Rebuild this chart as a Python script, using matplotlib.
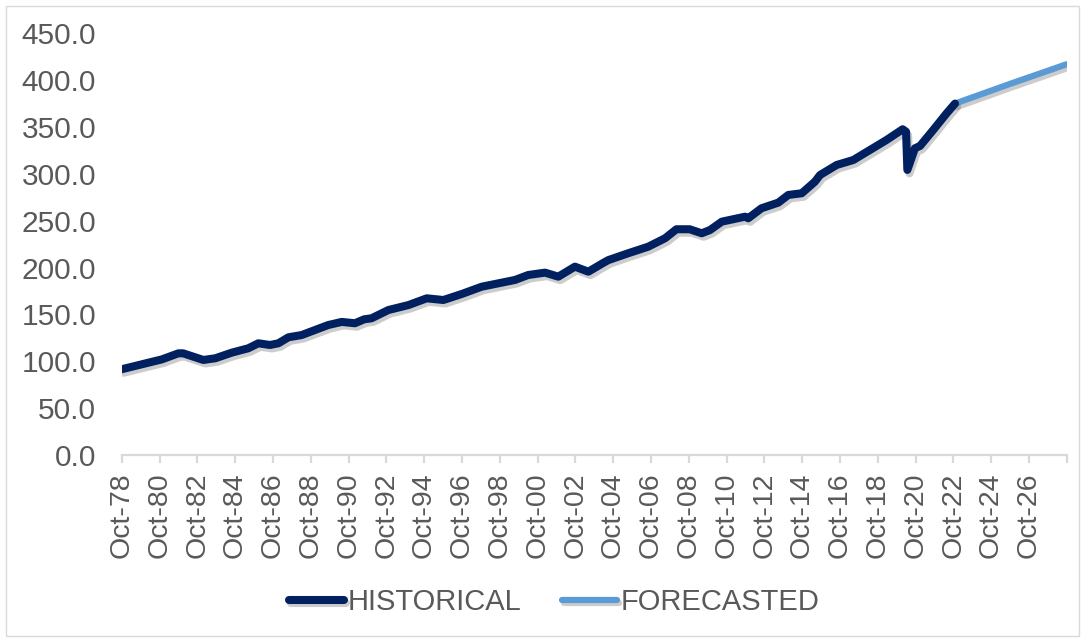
import matplotlib

matplotlib.use("Agg")

import matplotlib.pyplot as plt
import matplotlib.patheffects as pe
from matplotlib.patches import Rectangle

# values (x in decimal years, y in index units)
hist_years = [
    1978.75, 1980.16, 1980.87, 1981.75, 1982.0, 1983.07, 1983.7, 1984.57,
    1985.45, 1985.98, 1986.6, 1987.04, 1987.57, 1988.27, 1988.98, 1989.68,
    1990.39, 1991.09, 1991.58, 1991.97, 1992.86, 1993.92, 1994.89, 1995.77,
    1996.74, 1997.8, 1998.68, 1999.56, 2000.26, 2001.15, 2001.85, 2002.73,
    2003.44, 2004.23, 2004.5, 2005.55, 2006.61, 2007.5, 2008.1, 2008.8,
    2009.44, 2009.88, 2010.5, 2011.73, 2011.9, 2012.6, 2013.49, 2014.02,
    2014.73, 2015.43, 2015.7, 2016.58, 2017.46, 2018.34, 2019.22, 2020.07,
    2020.25, 2020.32, 2020.72, 2020.99, 2021.69, 2022.4, 2022.84,
]
hist_values = [
    91.5, 98.5, 102.0, 108.5, 108.5, 101.4, 103.2, 109.2,
    113.9, 119.2, 117.4, 119.2, 125.6, 128.0, 133.4, 138.7,
    142.0, 140.6, 144.8, 145.9, 154.7, 160.0, 167.2, 165.4,
    171.8, 179.6, 183.2, 186.8, 192.1, 194.6, 190.3, 201.0,
    195.6, 205.0, 208.0, 215.3, 222.3, 231.3, 240.9, 240.9,
    236.6, 240.1, 249.0, 254.3, 252.6, 263.3, 269.3, 277.5,
    279.3, 291.7, 298.8, 309.5, 314.8, 325.5, 336.2, 347.6,
    345.0, 304.2, 327.3, 329.8, 346.9, 364.7, 375.0,
]
fc_years = [2022.84, 2025.75, 2028.75]
fc_values = [375.0, 396.0, 417.0]

tick_years = [1978.75 + 2 * k for k in range(26)]
tick_labels = [f"Oct-{int(y) % 100:02d}" for y in tick_years[:-1]] + [""]

W, H, DPI = 1084, 641, 100
TEXT = "#595959"
GRID = "#D9D9D9"

plt.rcParams["font.family"] = ["Liberation Sans", "DejaVu Sans"]

fig = plt.figure(figsize=(W / DPI, H / DPI), dpi=DPI)
ax = fig.add_axes([121.7 / W, (H - 455) / H, 945 / W, 421.7 / H])

shadow = [pe.SimpleLineShadow(offset=(1.5, -2.5), shadow_color="0.35", alpha=0.3), pe.Normal()]

ax.plot(hist_years, hist_values, color="#002060", lw=5.8, solid_capstyle="round",
        solid_joinstyle="round", label="HISTORICAL", path_effects=shadow, zorder=3)
ax.plot(fc_years, fc_values, color="#5B9BD5", lw=4.5, solid_capstyle="round",
        label="FORECASTED", path_effects=shadow, zorder=2)

ax.set_xlim(tick_years[0], tick_years[-1])
ax.set_ylim(0, 450)
ax.set_yticks(range(0, 451, 50))
ax.set_yticklabels([f"{v:.1f}" for v in range(0, 451, 50)])
ax.set_xticks(tick_years)
ax.set_xticklabels(tick_labels, rotation=90)

for side in ["left", "right", "top"]:
    ax.spines[side].set_visible(False)
ax.spines["bottom"].set_color(GRID)
ax.spines["bottom"].set_linewidth(1.6)

ax.tick_params(axis="y", length=0, pad=18.5, labelsize=21.5, labelcolor=TEXT)
ax.tick_params(axis="x", length=5.8, width=1.6, color=GRID, pad=7, labelsize=20.5, labelcolor=TEXT)

fig.legend(loc="center", bbox_to_anchor=(554 / W, 1 - 602 / H), ncol=2, frameon=False,
           fontsize=21, labelcolor=TEXT, handlelength=1.9, handletextpad=0.1,
           columnspacing=1.4)

fig.patches.append(Rectangle((5.5 / W, 5.5 / H), (W - 11) / W, (H - 11) / H,
                             transform=fig.transFigure, fill=False, edgecolor=GRID, lw=1))

fig.savefig("out.png", dpi=DPI)
